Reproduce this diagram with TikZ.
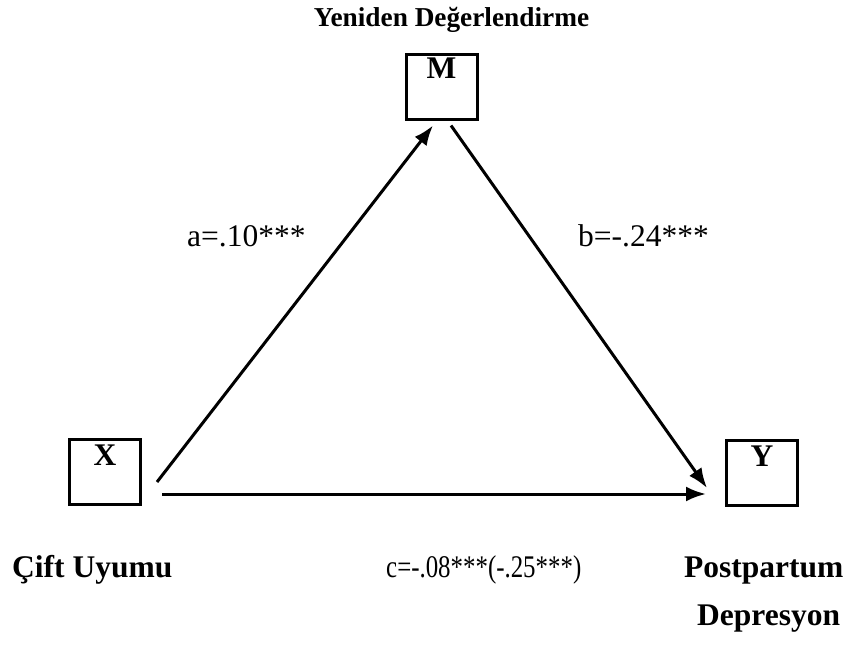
\documentclass[tikz,border=0pt]{standalone}
\usepackage{fontspec}
\setmainfont{Liberation Serif}
\usetikzlibrary{arrows.meta,calc}
\begin{document}
\begin{tikzpicture}[x=1pt,y=-1pt,
  varbox/.style={draw,line width=3pt,minimum width=71pt,minimum height=65pt,inner sep=0pt},
  boxlbl/.style={anchor=base,inner sep=0pt,font=\fontsize{31.5}{38}\selectfont\bfseries},
  namelbl/.style={anchor=base west,inner sep=0pt,font=\fontsize{31.5}{38}\selectfont\bfseries},
  coef/.style={anchor=base west,inner sep=0pt,font=\fontsize{31.5}{38}\selectfont},
  path/.style={line width=3pt,-{Latex[length=20pt,width=15pt]}}
]
\useasboundingbox (0,0) rectangle (845,647);
\fill[white] (0,0) rectangle (845,647);
% title
\node[anchor=base,inner sep=0pt,font=\fontsize{27.3}{34}\selectfont\bfseries] (title) at (451.5,27) {Yeniden Değerlendirme};
% boxes
\node[varbox] (M) at (441.5,87.5) {};
\node[varbox] (X) at (105,472) {};
\node[varbox] (Y) at (762,473) {};
\node[boxlbl] (Mt) at ([yshift=-25pt]M.north) {M};
\node[boxlbl] (Xt) at ([yshift=-27pt]X.north) {X};
\node[boxlbl] (Yt) at ([yshift=-27pt]Y.north) {Y};
% arrow end points
\coordinate (xa) at ([xshift=15pt,yshift=-10pt]X.east);
\coordinate (xc) at ([xshift=20pt,yshift=-22pt]X.east);
\coordinate (ma) at ([xshift=-8.5pt,yshift=-4pt]M.south);
\coordinate (mb) at ([xshift=9.5pt,yshift=-4pt]M.south);
\coordinate (yb) at ([xshift=-18pt,yshift=-15pt]Y.west);
\coordinate (yc) at ([xshift=-19pt,yshift=-21pt]Y.west);
\draw[path] (xa) -- (ma);
\draw[path] (mb) -- (yb);
\draw[path] (xc) -- (yc);
% coefficients
\node[coef] (a) at (187,246) {a=.10***};
\node[coef] (b) at (578,246) {b=-.24***};
\node[coef] (c) at (386,577) {\scalebox{0.79}[1]{c=-.08***(-.25***)}};
% names
\node[namelbl] (xn) at (12,577) {Çift Uyumu};
\node[namelbl] (yn1) at (684,577) {Postpartum};
\node[namelbl] (yn2) at (697,625) {Depresyon};
\end{tikzpicture}
\end{document}
